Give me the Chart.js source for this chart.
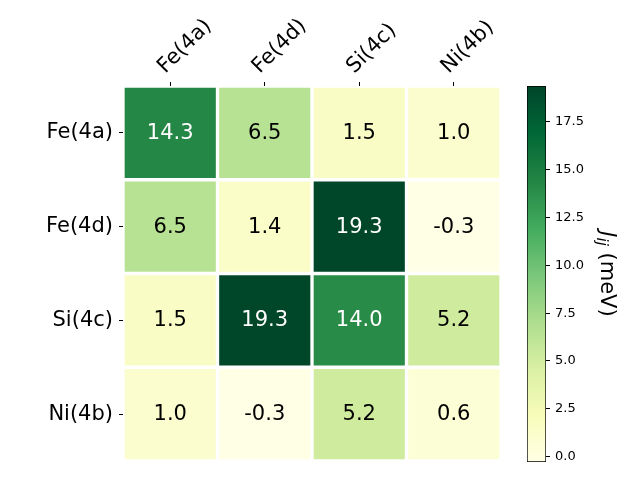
<!DOCTYPE html>
<html>
<head>
<meta charset="utf-8">
<script src="https://cdn.jsdelivr.net/npm/chart.js@4"></script>
<style>
  html, body { margin: 0; padding: 0; background: #fff; }
  #wrap { position: relative; width: 640px; height: 480px; }
  canvas { position: absolute; left: 0; top: 0; }
</style>
</head>
<body>
<div id="wrap">
  <canvas id="mapa" width="640" height="480"></canvas>
  <canvas id="barra" width="640" height="480"></canvas>
</div>
<script>
const sitios = ['Fe(4a)', 'Fe(4d)', 'Si(4c)', 'Ni(4b)'];
const jFe4a = [14.3, 6.5, 1.5, 1.0];
const jFe4d = [6.5, 1.4, 19.3, -0.3];
const jSi4c = [1.5, 19.3, 14.0, 5.2];
const jNi4b = [1.0, -0.3, 5.2, 0.6];
const ticksBarra = [0.0, 2.5, 5.0, 7.5, 10.0, 12.5, 15.0, 17.5];
const escalaMin = -0.28;
const escalaMax = 19.37;

const filas = [jFe4a, jFe4d, jSi4c, jNi4b];

Chart.defaults.font.family = '"DejaVu Sans"';
Chart.defaults.color = '#000';

// YlGn (colorbrewer, igual que matplotlib)
const ylgn = [[255,255,229],[247,252,185],[217,240,163],[173,221,142],[120,198,121],
              [65,171,93],[35,132,67],[0,104,55],[0,69,41]];

function corYlGn(v) {
  let t = (v - escalaMin) / (escalaMax - escalaMin);
  t = Math.max(0, Math.min(1, t)) * (ylgn.length - 1);
  const i = Math.min(Math.floor(t), ylgn.length - 2);
  const f = t - i;
  const c = ylgn[i].map((a, k) => Math.round(a + (ylgn[i + 1][k] - a) * f));
  return `rgb(${c[0]}, ${c[1]}, ${c[2]})`;
}

// una serie apilada por fila, de abajo hacia arriba
const datasets = [];
for (let r = filas.length - 1; r >= 0; r--) {
  datasets.push({
    label: sitios[r],
    data: filas[r].map(() => 1),
    valores: filas[r],
    backgroundColor: filas[r].map(corYlGn),
    borderColor: '#fff',
    borderWidth: 2,
    borderSkipped: false,
    barPercentage: 1,
    categoryPercentage: 1
  });
}

const textoCeldas = {
  id: 'textoCeldas',
  afterDatasetsDraw(chart) {
    const ctx = chart.ctx;
    ctx.save();
    ctx.font = '21px "DejaVu Sans"';
    ctx.textAlign = 'center';
    ctx.textBaseline = 'middle';
    chart.data.datasets.forEach((ds, i) => {
      chart.getDatasetMeta(i).data.forEach((bar, j) => {
        const v = ds.valores[j];
        ctx.fillStyle = v > 10 ? '#fff' : '#000';
        ctx.fillText(v.toFixed(1), bar.x, (bar.y + bar.base) / 2 + 0.5);
      });
    });
    ctx.restore();
  }
};

new Chart(document.getElementById('mapa'), {
  type: 'bar',
  data: { labels: sitios, datasets: datasets },
  options: {
    responsive: false,
    animation: false,
    layout: { padding: { left: 0, top: 0, right: 139, bottom: 19 } },
    plugins: { legend: { display: false }, tooltip: { enabled: false } },
    scales: {
      x: {
        position: 'top',
        stacked: true,
        offset: true,
        grid: { offset: false, drawOnChartArea: false, tickLength: 4, tickColor: '#000' },
        border: { display: false },
        ticks: { minRotation: 45, maxRotation: 45, labelOffset: 9, padding: 3, font: { size: 21 } },
        afterFit: s => { s.height = 86; s.paddingLeft = 0; s.paddingRight = 0; }
      },
      y: {
        stacked: true,
        min: 0,
        max: 4,
        afterBuildTicks: s => { s.ticks = [3.5, 2.5, 1.5, 0.5].map(v => ({ value: v })); },
        grid: { drawOnChartArea: false, tickLength: 4, tickColor: '#000' },
        border: { display: false },
        ticks: { padding: 6, font: { size: 21 }, callback: v => sitios[Math.round(3.5 - v)] },
        afterFit: s => { s.width = 123; s.paddingTop = 0; s.paddingBottom = 0; }
      }
    }
  },
  plugins: [textoCeldas]
});

function gradienteBarra(context) {
  const chart = context.chart;
  const y = chart.scales.y;
  if (!chart.chartArea || !y) return corYlGn(escalaMin);
  const g = chart.ctx.createLinearGradient(0, y.getPixelForValue(escalaMin), 0, y.getPixelForValue(escalaMax));
  ylgn.forEach((c, i) => g.addColorStop(i / (ylgn.length - 1), `rgb(${c.join(',')})`));
  return g;
}

const rotuloBarra = {
  id: 'rotuloBarra',
  afterDraw(chart) {
    const ctx = chart.ctx;
    const normal = '21px "DejaVu Sans"';
    const ital = 'italic 21px "DejaVu Sans"';
    const sub = 'italic 15px "DejaVu Sans"';
    ctx.save();
    ctx.font = ital; const wJ = ctx.measureText('J').width;
    ctx.font = sub; const wIJ = ctx.measureText('ij').width;
    ctx.font = normal; const wR = ctx.measureText(' (meV)').width;
    const a = chart.chartArea;
    const cy = (a.top + a.bottom) / 2;
    ctx.translate(601, cy - (wJ + wIJ + wR) / 2);
    ctx.rotate(Math.PI / 2);
    ctx.fillStyle = '#000';
    ctx.textAlign = 'left';
    ctx.textBaseline = 'alphabetic';
    ctx.font = ital; ctx.fillText('J', 0, 0);
    ctx.font = sub; ctx.fillText('ij', wJ, 4);
    ctx.font = normal; ctx.fillText(' (meV)', wJ + wIJ, 0);
    ctx.restore();
  }
};

new Chart(document.getElementById('barra'), {
  type: 'bar',
  data: {
    labels: [''],
    datasets: [{
      data: [[escalaMin, escalaMax]],
      backgroundColor: gradienteBarra,
      borderColor: '#000',
      borderWidth: 1,
      borderSkipped: false,
      barPercentage: 1,
      categoryPercentage: 1
    }]
  },
  options: {
    responsive: false,
    animation: false,
    layout: { padding: { left: 527, top: 86, right: 44, bottom: 18 } },
    plugins: { legend: { display: false }, tooltip: { enabled: false } },
    scales: {
      x: { display: false },
      y: {
        position: 'right',
        min: escalaMin,
        max: escalaMax,
        afterBuildTicks: s => { s.ticks = ticksBarra.map(v => ({ value: v })); },
        grid: { drawOnChartArea: false, tickLength: 4, tickColor: '#000' },
        border: { display: false },
        ticks: { padding: 5, font: { size: 13 }, callback: v => v.toFixed(1) },
        afterFit: s => { s.width = 50; s.paddingTop = 0; s.paddingBottom = 0; }
      }
    }
  },
  plugins: [rotuloBarra]
});
</script>
</body>
</html>
